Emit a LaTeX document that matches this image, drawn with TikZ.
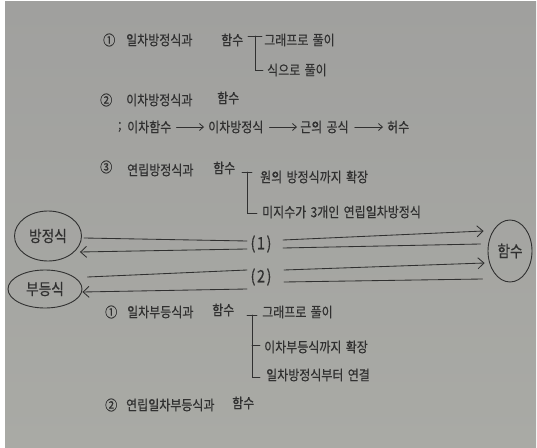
\documentclass[tikz,border=0pt]{standalone}
\usepackage{fontspec}
\setmainfont{Noto Sans CJK KR}[FakeStretch=0.86,FakeBold=0.4,WordSpace=1.6]
\usetikzlibrary{arrows.meta,calc,shapes.geometric}
\definecolor{paperTop}{HTML}{A0A09E}
\definecolor{paperBot}{HTML}{A9AAA5}
\definecolor{pencil}{HTML}{303030}
\begin{document}
\begin{tikzpicture}[x=1bp,y=-1bp,
  every node/.style={text=pencil, font=\fontsize{14}{16}\selectfont, inner sep=1pt},
  lbl/.style={anchor=west},
  big/.style={font=\fontsize{16}{18}\selectfont},
  paren/.style={font=\fontsize{17}{19}\selectfont},
  oval/.style={draw=pencil, ellipse, line width=0.9pt, inner sep=0pt, big},
  pen/.style={draw=pencil, line width=0.85pt, line cap=round},
  bigtip/.style={pen, -{Straight Barb[length=6bp,width=11bp]}},
  smalltip/.style={pen, -{Straight Barb[length=4bp,width=7bp]}}]
% paper
\useasboundingbox (0,0) rectangle (537,448);
\fill[white] (0,0) rectangle (537,448);
\shade[top color=paperTop, bottom color=paperBot] (5,2) rectangle (536,448);

% ---- section 1 : equations
\node[lbl] (a1n) at (102,40) {①};
\node[lbl] (a1t) at (125,40) {일차방정식과};
\node[lbl] (a1f) at (220,40) {함수};
\draw[pen] (248,36) -- (262,36) (255,36) -- (255,70) -- (263,70);
\node[lbl] (a1b1) at (263,40) {그래프로 풀이};
\node[lbl] (a1b2) at (266,70) {식으로 풀이};

\node[lbl] (a2n) at (99,100) {②};
\node[lbl] (a2t) at (125,100) {이차방정식과};
\node[lbl] (a2f) at (216,98) {함수};

\node[lbl] (semi) at (117,127) {;};
\node[lbl] (ch1) at (126,127) {이차함수};
\node[lbl] (ch2) at (207,127) {이차방정식};
\node[lbl] (ch3) at (299,127) {근의 공식};
\node[lbl] (ch4) at (386,127) {허수};
\draw[smalltip, shorten <=4bp, shorten >=3bp] (ch1.east) -- (ch2.west);
\draw[smalltip, shorten <=5bp, shorten >=2bp] (ch2.east) -- (ch3.west);
\draw[smalltip, shorten <=5bp, shorten >=3bp] (ch3.east) -- (ch4.west);

\node[lbl] (a3n) at (99,167) {③};
\node[lbl] (a3t) at (126,170) {연립방정식과};
\node[lbl] (a3f) at (212,168) {함수};
\draw[pen] (242,172) -- (252,172) (247,172) -- (247,213) -- (257,213);
\node[lbl] (a3b1) at (259,177) {원의 방정식까지 확장};
\node[lbl] (a3b2) at (261,212) {미지수가 3개인 연립일차방정식};

% ---- middle : relations
\node[oval, minimum width=67bp, minimum height=50bp] (eq) at (48,236) {방정식};
\node[oval, minimum width=74bp, minimum height=38bp] (ineq) at (45,289) {부등식};
\node[oval, minimum width=44bp, minimum height=62bp] (fn) at (510,251) {함수};
\node[paren] (p1) at (261,244) {(\kern1.5pt1\kern1.5pt)};
\node[paren] (p2) at (261,277) {(\kern1.5pt2\kern1.5pt)};

\draw[pen] ($(p1.center)+(-14,-3)$) -- ($(eq.east)+(2,2)$);
\draw[bigtip] ($(p1.center)+(-14,5)$) -- ($(eq.east)+(-2,16)$);
\draw[bigtip] ($(p1.center)+(22,-4)$) -- ($(fn.west)+(-4,-20)$);
\draw[pen] ($(p1.center)+(22,4)$) -- ($(fn.west)+(-7,-7)$);

\draw[pen] ($(p2.center)+(-14,-7)$) -- ($(ineq.east)+(5,-12)$);
\draw[bigtip] ($(p2.center)+(-14,12)$) -- ($(ineq.east)+(0,3)$);
\draw[bigtip] ($(p2.center)+(23,-7)$) -- ($(fn.west)+(-3,12)$);
\draw[pen] ($(p2.center)+(23,5)$) -- ($(fn.west)+(-5,28)$);

% ---- section 2 : inequalities
\node[lbl] (b1n) at (104,312) {①};
\node[lbl] (b1t) at (126,312) {일차부등식과};
\node[lbl] (b1f) at (211,310) {함수};
\draw[pen] (247,315) -- (257,315) (252,315) -- (252,377) -- (260,377) (252,345) -- (260,345);
\node[lbl] (b1b1) at (261,312) {그래프로 풀이};
\node[lbl] (b1b2) at (263,347) {이차부등식까지 확장};
\node[lbl] (b1b3) at (265,375) {일차방정식부터 연결};

\node[lbl] (b2n) at (104,405) {②};
\node[lbl] (b2t) at (125,405) {연립일차부등식과};
\node[lbl] (b2f) at (231,403) {함수};
\end{tikzpicture}
\end{document}
